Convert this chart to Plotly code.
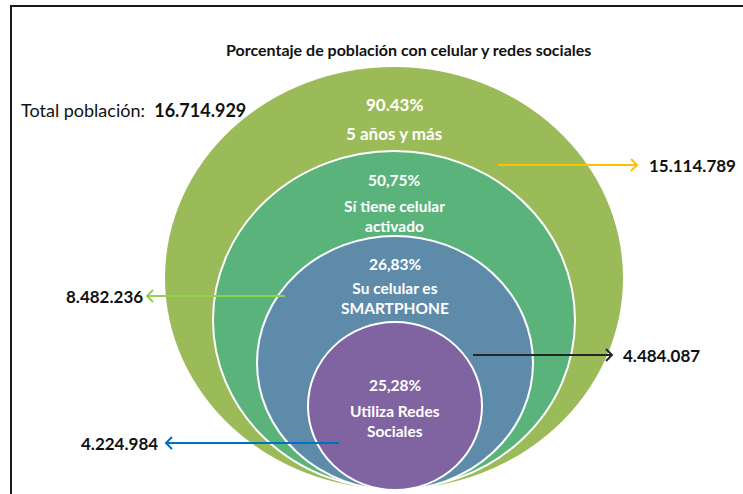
import plotly.graph_objects as go

# ---- data ----
title_text = "Porcentaje de población con celular y redes sociales"
total_label = "Total población:"
total_value = "16.714.929"
percentages = ["90.43%", "50,75%", "26,83%", "25,28%"]
groups = ["5 años y más", "Sí tiene celular<br>activado", "Su celular es<br>SMARTPHONE", "Utiliza Redes<br>Sociales"]
counts = ["15.114.789", "8.482.236", "4.484.087", "4.224.984"]

# ---- layout / style (pixel space of the 743x494 canvas) ----
W, H = 743, 494
ellipse_geom = [(394, 278, 229, 211), (394, 320, 181, 169), (395, 363, 138, 127), (395, 406, 87, 84)]
ellipse_colors = ["#9BBB59", "#5BB37C", "#5F8BAB", "#8064A2"]
pct_y = [104, 180, 264, 385]
grp_y = [133, 216, 298, 421]
txt_size = [17, 15.5, 15.5, 15.5]
# arrows: start x, end x, y, colour, label anchor x, label side
arrow_geom = [(498, 637, 165, "#FFC000", 647, "left"),
              (285, 147, 296, "#92D050", 145, "right"),
              (473, 612, 355, "#262626", 621, "left"),
              (339, 166, 443, "#0070C0", 160, "right")]

FONT = "Lato"
fig = go.Figure()
shapes = []
annotations = []

# frame
shapes.append(dict(type="path", path=f"M 11 {H+5} L 11 6 L {W+5} 6", xref="x", yref="y",
                   line=dict(color="#1a1a1a", width=2)))

for i, (cx, cy, rx, ry) in enumerate(ellipse_geom):
    shapes.append(dict(type="circle", xref="x", yref="y",
                       x0=cx - rx, x1=cx + rx, y0=cy - ry, y1=cy + ry,
                       fillcolor=ellipse_colors[i],
                       line=dict(color="white" if i else ellipse_colors[i], width=2 if i else 0)))
    annotations.append(dict(x=cx, y=pct_y[i], xref="x", yref="y", text=f"<b>{percentages[i]}</b>",
                            showarrow=False, font=dict(family=FONT, size=txt_size[i], color="white"),
                            xanchor="center", yanchor="middle"))
    annotations.append(dict(x=cx, y=grp_y[i], xref="x", yref="y", text=f"<b>{groups[i]}</b>",
                            showarrow=False, font=dict(family=FONT, size=txt_size[i], color="white"),
                            xanchor="center", yanchor="middle"))

for i, (xa, xb, y, col, lx, side) in enumerate(arrow_geom):
    d = 1 if xb > xa else -1
    shapes.append(dict(type="line", xref="x", yref="y", x0=xa, x1=xb - d * 1, y0=y, y1=y,
                       line=dict(color=col, width=2)))
    shapes.append(dict(type="path", xref="x", yref="y",
                       path=f"M {xb - d*6} {y-6} L {xb} {y} L {xb - d*6} {y+6}",
                       line=dict(color=col, width=2)))
    annotations.append(dict(x=lx, y=y, xref="x", yref="y", text=f"<b>{counts[i]}</b>",
                            showarrow=False, font=dict(family=FONT, size=17, color="#111111"),
                            xanchor=side, yanchor="middle"))

annotations.append(dict(x=408, y=49, xref="x", yref="y", text=f"<b>{title_text}</b>", showarrow=False,
                        font=dict(family=FONT, size=16, color="#111111"), xanchor="center", yanchor="middle"))
annotations.append(dict(x=19, y=110, xref="x", yref="y",
                        text=f"{total_label}  <b>{total_value}</b>", showarrow=False,
                        font=dict(family=FONT, size=18, color="#111111"), xanchor="left", yanchor="middle"))

fig.update_layout(
    width=W, height=H, margin=dict(l=0, r=0, t=0, b=0),
    paper_bgcolor="white", plot_bgcolor="white",
    xaxis=dict(range=[0, W], visible=False, fixedrange=True),
    yaxis=dict(range=[H, 0], visible=False, fixedrange=True),
    shapes=shapes, annotations=annotations, showlegend=False,
)
fig.write_html("out.html", config={"displayModeBar": False},
               post_script="document.body.style.margin='0';")
